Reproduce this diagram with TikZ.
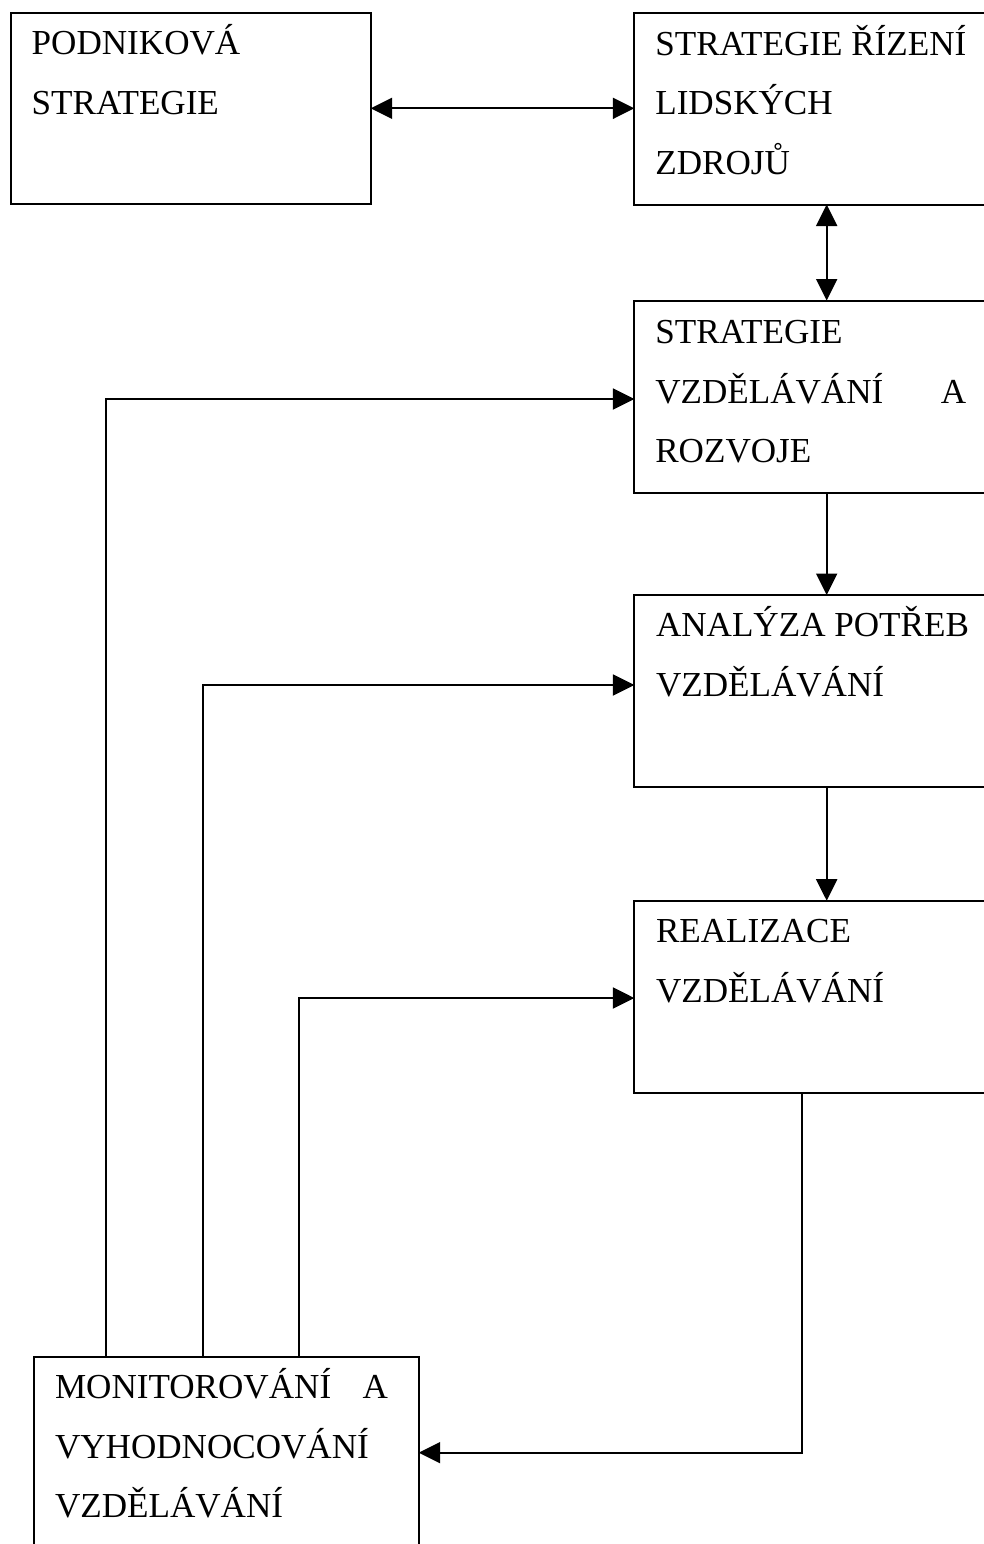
\documentclass[tikz,border=0pt]{standalone}
\usepackage{fontspec}
\setmainfont{Liberation Serif}
\usetikzlibrary{arrows.meta,calc}
\begin{document}
\begin{tikzpicture}[x=1pt,y=-1pt,
  box/.style={draw, line width=2pt, inner sep=0pt, outer sep=0pt, anchor=north west},
  txt/.style={inner sep=0pt, outer sep=0pt, anchor=base west, font=\fontsize{35.1}{59.7}\selectfont},
  conn/.style={line width=1.9pt},
  tip/.tip={Triangle[length=21.5pt,width=21pt]}]
\useasboundingbox (0,0) rectangle (983,1544);
% boxes
\node[box, minimum width=360pt, minimum height=191.3pt] (b1) at (10.7,12.7) {};
\node[box, minimum width=380pt, minimum height=191.2pt] (b2) at (634.3,13.3) {};
\node[box, minimum width=380pt, minimum height=192.2pt] (b3) at (634.3,300.5) {};
\node[box, minimum width=380pt, minimum height=191.7pt] (b4) at (634.3,595) {};
\node[box, minimum width=380pt, minimum height=192pt] (b5) at (634.3,900.7) {};
\node[box, minimum width=384.4pt, minimum height=250pt] (b6) at (34.3,1357.3) {};
% texts
\node[txt] (t1a) at ($(b1.north west)+(21,42.3)$) {PODNIKOVÁ};
\node[txt] (t1b) at ($(b1.north west)+(21,102)$) {STRATEGIE};
\node[txt] (t2a) at ($(b2.north west)+(21,42)$) {STRATEGIE ŘÍZENÍ};
\node[txt] (t2b) at ($(b2.north west)+(21,101.7)$) {LIDSKÝCH};
\node[txt] (t2c) at ($(b2.north west)+(21,161.4)$) {ZDROJŮ};
\node[txt] (t3a) at ($(b3.north west)+(21,43)$) {STRATEGIE};
\node[txt] (t3b) at ($(b3.north west)+(21,102.7)$) {\makebox[311pt][l]{VZDĚLÁVÁNÍ\hfill A}};
\node[txt] (t3c) at ($(b3.north west)+(21,162.4)$) {ROZVOJE};
\node[txt] (t4a) at ($(b4.north west)+(21.7,41.7)$) {ANALÝZA POTŘEB};
\node[txt] (t4b) at ($(b4.north west)+(21.7,101.7)$) {VZDĚLÁVÁNÍ};
\node[txt] (t5a) at ($(b5.north west)+(21.7,42)$) {REALIZACE};
\node[txt] (t5b) at ($(b5.north west)+(21.7,101.3)$) {VZDĚLÁVÁNÍ};
\node[txt] (t6a) at ($(b6.north west)+(20.7,41)$) {\makebox[333pt][l]{MONITOROVÁNÍ\hfill A}};
\node[txt] (t6b) at ($(b6.north west)+(20.7,100.7)$) {VYHODNOCOVÁNÍ};
\node[txt] (t6c) at ($(b6.north west)+(20.7,160.4)$) {VZDĚLÁVÁNÍ};
% helper coordinates
\coordinate (c1) at (826.7,0);
\coordinate (c2) at (802.3,1452.7);
\coordinate (v1) at (106,399);
\coordinate (v2) at (202.7,685);
\coordinate (v3) at (298.7,998);
% connectors
\draw[conn, tip-tip] (b1.east) -- (b1.east -| b2.west);
\draw[conn, tip-tip] (b2.south -| c1) -- (b3.north -| c1);
\draw[conn, -tip] (b3.south -| c1) -- (b4.north -| c1);
\draw[conn, -tip] (b4.south -| c1) -- (b5.north -| c1);
\draw[conn, -tip] (b5.south -| c2) -- (c2) -- (c2 -| b6.east);
\draw[conn, -tip] (b6.north -| v1) -- (v1) -- (v1 -| b3.west);
\draw[conn, -tip] (b6.north -| v2) -- (v2) -- (v2 -| b4.west);
\draw[conn, -tip] (b6.north -| v3) -- (v3) -- (v3 -| b5.west);
\end{tikzpicture}
\end{document}
